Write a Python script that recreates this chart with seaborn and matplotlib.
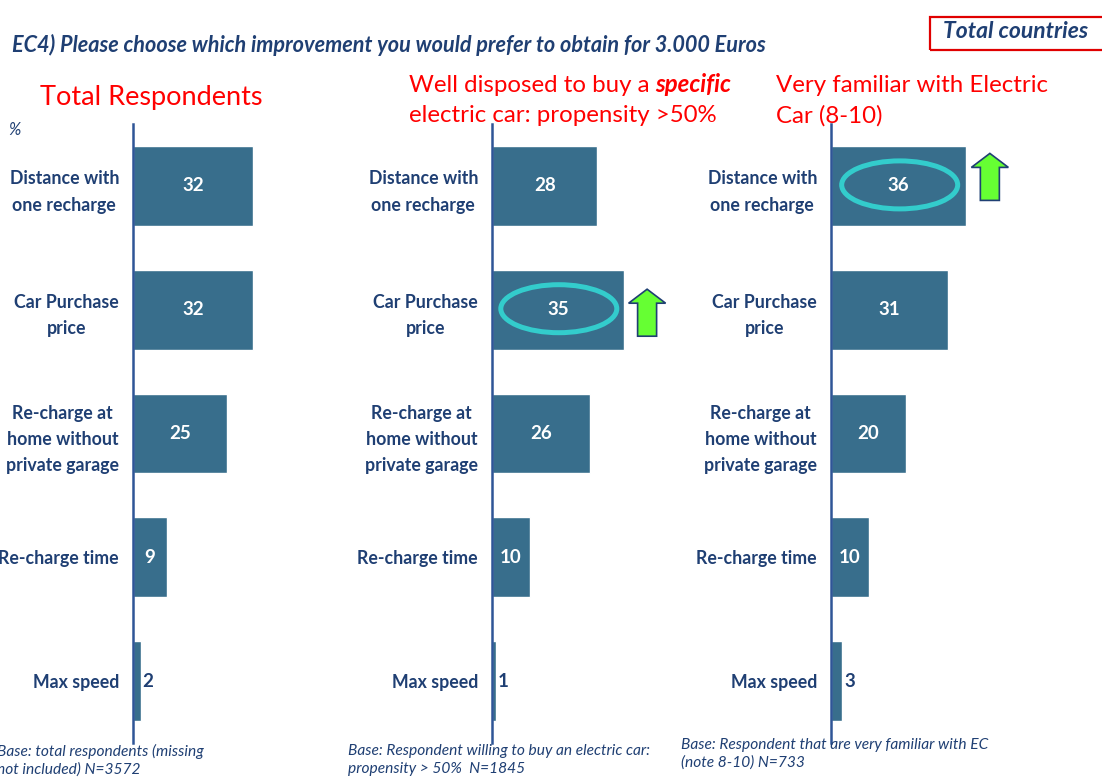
import matplotlib
matplotlib.use("Agg")
import matplotlib.pyplot as plt
import matplotlib.transforms as mtransforms
from matplotlib.patches import Ellipse, Polygon, Rectangle
import seaborn as sns
import pandas as pd
import numpy as np

# ---------------- data ----------------
categories = ["Distance with\none recharge", "Car Purchase\nprice",
              "Re-charge at\nhome without\nprivate garage", "Re-charge time", "Max speed"]
total_respondents = [32, 32, 25, 9, 2]
well_disposed = [28, 35, 26, 10, 1]
very_familiar = [36, 31, 20, 10, 3]

panel_titles = ["Total Respondents", None, "Very familiar with Electric\nCar (8-10)"]
base_notes = ["Base: total respondents (missing\nnot included) N=3572",
              "Base: Respondent willing to buy an electric car:\npropensity > 50%  N=1845",
              "Base: Respondent that are very familiar with EC\n(note 8-10) N=733"]
highlights = [None, 1, 0]   # index of highlighted bar per panel

BAR = "#386E8C"
TXT = "#1F3F73"
AX = "#2F5597"
RED = "#FF0000"

sns.set_theme(style="white")
plt.rcParams["font.family"] = ["Lato", "DejaVu Sans"]

W, H = 1102, 778
fig = plt.figure(figsize=(W / 100, H / 100), dpi=100)

px_per_unit = 3.76
ax_w_px = 150
lefts_px = [133, 492, 831]
top_px, bot_px = 124, 743

series = [total_respondents, well_disposed, very_familiar]
axes = []
for k, vals in enumerate(series):
    ax = fig.add_axes([lefts_px[k] / W, 1 - bot_px / H, ax_w_px / W, (bot_px - top_px) / H])
    df = pd.DataFrame({"cat": categories, "value": vals})
    sns.barplot(data=df, x="value", y="cat", orient="h", color=BAR, saturation=1,
                width=0.645, ax=ax)
    ax.set_xlim(0, ax_w_px / px_per_unit)
    ax.set_ylim(len(categories) - 0.5, -0.5)
    ax.set_xlabel("")
    ax.set_ylabel("")
    ax.set_xticks([])
    for s in ["top", "right", "bottom"]:
        ax.spines[s].set_visible(False)
    ax.spines["left"].set_color(AX)
    ax.spines["left"].set_linewidth(1.8)
    ax.set_yticks(np.arange(len(categories)))
    ax.set_yticklabels(categories, fontsize=12.8, fontweight="bold", color=TXT,
                       multialignment="center", linespacing=1.65)
    ax.tick_params(axis="y", which="major", length=0, pad=10)
    ax.set_yticks(np.arange(-0.5, len(categories)), minor=True)
    ax.tick_params(axis="y", which="minor", length=6, width=1.8, color=AX, direction="out")
    ax.patch.set_alpha(0)

    for i, v in enumerate(vals):
        if v >= 5:
            ax.text(v / 2, i, str(v), ha="center", va="center", color="white",
                    fontsize=13.5, fontweight="bold")
        else:
            ax.annotate(str(v), (v, i), xytext=(1.5, 0), textcoords="offset points",
                        ha="left", va="center", color=TXT, fontsize=13.5, fontweight="bold")

    hi = highlights[k]
    if hi is not None:
        v = vals[hi]
        # cyan ellipse around the value label
        tr = mtransforms.Affine2D() + mtransforms.ScaledTranslation(v / 2, hi, ax.transData)
        ax.add_patch(Ellipse((1, 1), 116, 48, transform=tr, fill=False,
                             edgecolor="#33CCCC", linewidth=3.6, clip_on=False, zorder=5))
        # green up arrow to the right of the bar
        tr2 = mtransforms.Affine2D() + mtransforms.ScaledTranslation(v, hi, ax.transData)
        x0, yc = 5, (-3 if k == 1 else 9)
        w, h, hh, sw = 37, 47, 14, 19
        yb, yt = yc - h / 2, yc + h / 2
        pts = [(x0 + (w - sw) / 2, yb), (x0 + (w + sw) / 2, yb), (x0 + (w + sw) / 2, yt - hh),
               (x0 + w, yt - hh), (x0 + w / 2, yt), (x0, yt - hh), (x0 + (w - sw) / 2, yt - hh)]
        ax.add_patch(Polygon(pts, closed=True, transform=tr2, facecolor="#66FF33",
                             edgecolor="#1F3F73", linewidth=1.2, clip_on=False, zorder=5))
    axes.append(ax)

# ---------------- texts ----------------
fig.text(12 / W, 1 - 45 / H, "EC4) Please choose which improvement you would prefer to obtain for 3.000 Euros",
         fontsize=15.6, fontweight="bold", fontstyle="italic", color=TXT, va="center", ha="left")

fig.patches.append(Rectangle((930 / W, 1 - 50 / H), 180 / W, 33 / H, transform=fig.transFigure,
                             fill=False, edgecolor="#E00000", linewidth=1.6))
fig.text(943 / W, 1 - 32 / H, "Total countries", fontsize=16.5, fontweight="bold",
         fontstyle="italic", color=TXT, va="center", ha="left")

fig.text(8 / W, 1 - 130 / H, "%", fontsize=12, fontstyle="italic", color=TXT, va="center")

fig.text(40 / W, 1 - 97 / H, panel_titles[0], fontsize=19.5, color=RED, va="center", ha="left")
fig.text(776 / W, 1 - 101 / H, panel_titles[2], fontsize=17.3, color=RED, va="center", ha="left",
         linespacing=1.5)

t1 = fig.text(409 / W, 1 - 85 / H, "Well disposed to buy a", fontsize=17.3, color=RED,
              va="center", ha="left")
fig.canvas.draw()
bb = t1.get_window_extent()
fig.text((bb.x1 + 6) / W, 1 - 85 / H, "specific", fontsize=17.3, color=RED, fontweight="bold",
         fontstyle="italic", va="center", ha="left")
fig.text(409 / W, 1 - 115 / H, "electric car: propensity >50%", fontsize=17.3, color=RED,
         va="center", ha="left")

note_x = [-3, 348, 681]
note_y = [760, 760, 754]
for k in range(3):
    fig.text(note_x[k] / W, 1 - note_y[k] / H, base_notes[k], fontsize=11.2, fontstyle="italic",
             color=TXT, va="center", ha="left", linespacing=1.3)

fig.savefig("out.png", dpi=100)
